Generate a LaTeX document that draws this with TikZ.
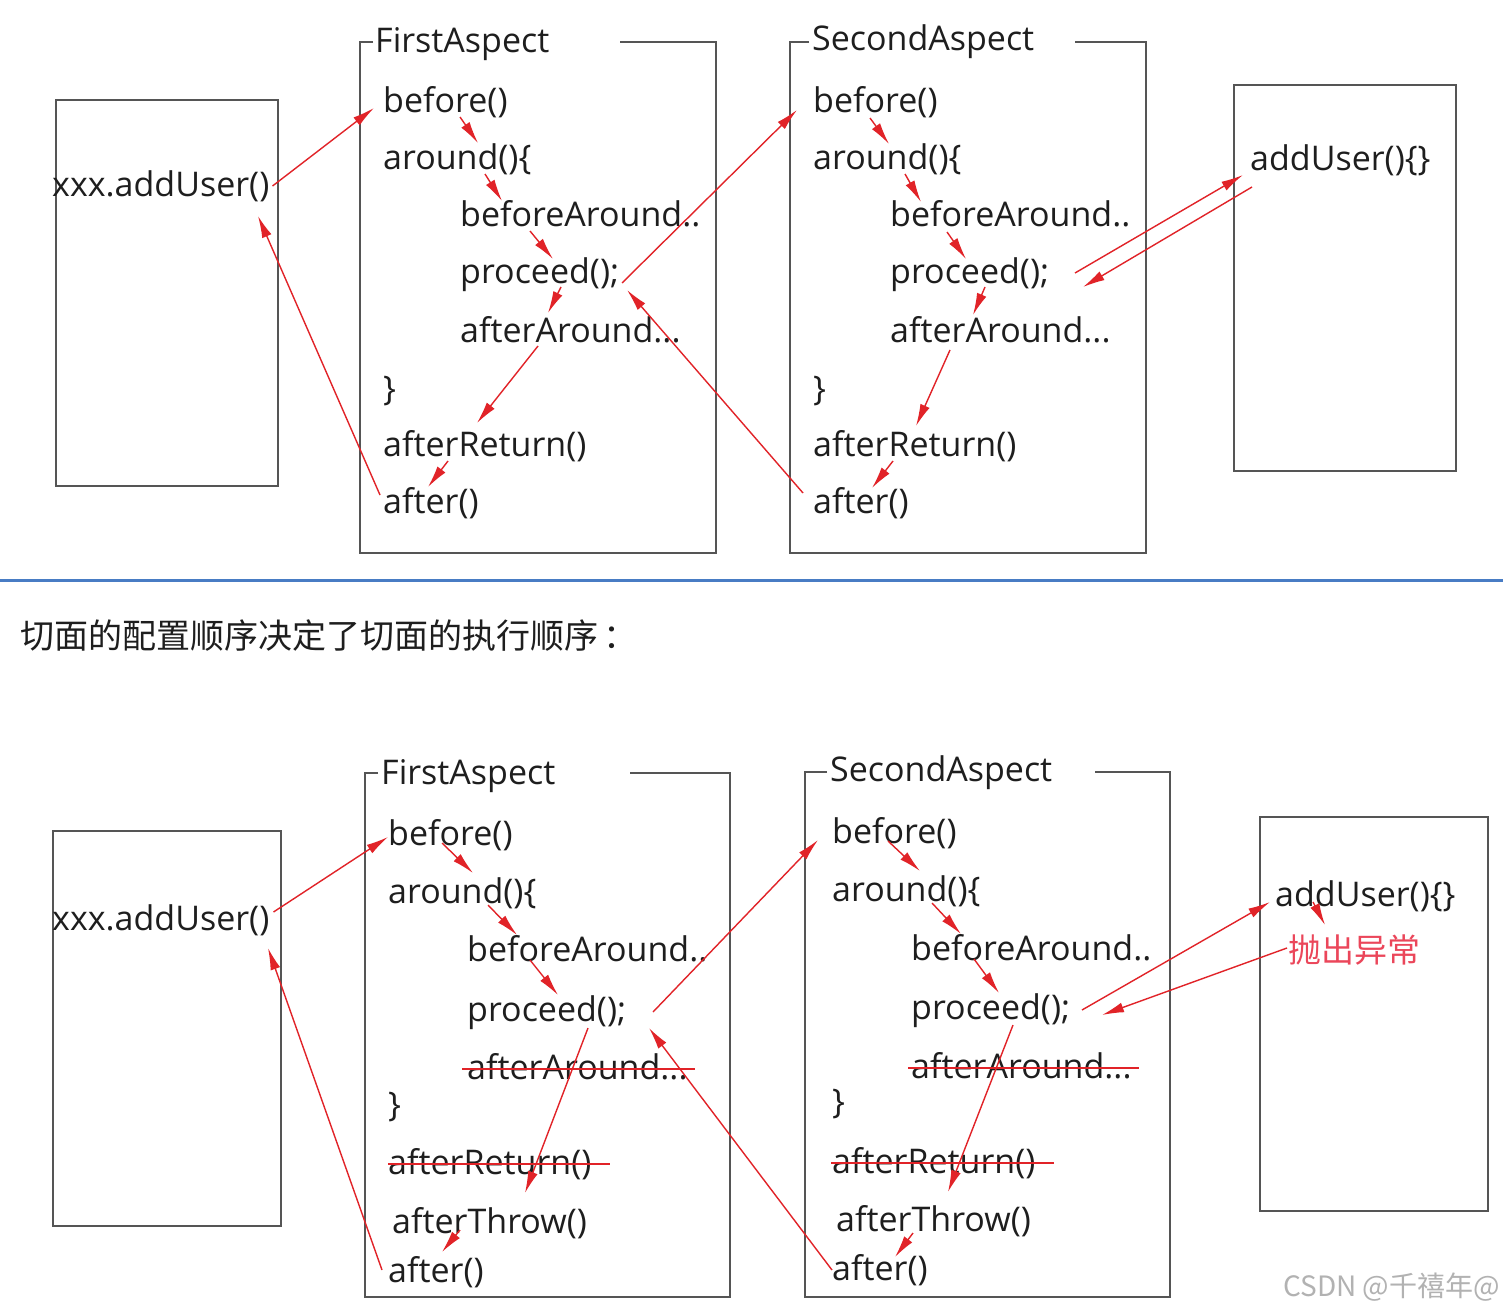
\documentclass[tikz,border=0pt]{standalone}
\usepackage{fontspec}
\setmainfont{Open Sans}
\newfontfamily\cjk{Noto Sans CJK SC}
\usetikzlibrary{arrows.meta,calc}
\definecolor{ink}{RGB}{30,30,30}
\definecolor{pen}{RGB}{225,35,40}
\definecolor{frm}{RGB}{85,85,85}
\definecolor{rulec}{RGB}{72,124,196}
\definecolor{errc}{RGB}{235,70,90}

\begin{document}
\begin{tikzpicture}[x=1pt, y=-1pt,
  txt/.style={anchor=west, inner sep=0pt, text=ink, text height=30pt, text depth=4pt,
    font=\fontsize{34}{40}\selectfont},
  box/.style={draw=frm, line width=1.5pt, inner sep=0pt, outer sep=0pt},
  frame/.style={draw=frm, line width=1.5pt},
  flow/.style={draw=pen, line width=1.4pt, -{Latex[length=22pt,width=10pt]}},
  strike/.style={draw=pen, line width=1.6pt}]
  \fill[white] (0,0) rectangle (1503,1313);
  \useasboundingbox (0,0) rectangle (1503,1313);

  % ---- upper diagram: normal return
  \node[box, minimum width=222pt, minimum height=386pt] (caller) at (167,293) {};
  \node[txt] (xu) at (52,184) {xxx.addUser()};
  \node[box, minimum width=222pt, minimum height=386pt] (target) at (1345,278) {};
  \node[txt] (tu) at (1250,158) {addUser()\{\}};

  \node[txt] (ft) at (375,40) {FirstAspect};
  \draw[frame] (373,42) -- (360,42) |- (716,553) -- (716,42) -- (620,42);
  \node[txt] (fb) at (383,100) {before()};
  \node[txt] (fa) at (383,157) {around()\{};
  \node[txt] (fba) at (460,214) {beforeAround..};
  \node[txt] (fp) at (460,271) {proceed();};
  \node[txt] (faa) at (460,329) {afterAround...};
  \node[txt] (fc) at (383,387) {\}};
  \node[txt] (far) at (383,443) {afterReturn()};
  \node[txt] (ff) at (383,500) {after()};

  \node[txt] (st) at (812,38) {SecondAspect};
  \draw[frame] (809,42) -- (790,42) |- (1146,553) -- (1146,42) -- (1075,42);
  \node[txt] (sb) at (813,100) {before()};
  \node[txt] (sa) at (813,157) {around()\{};
  \node[txt] (sba) at (890,214) {beforeAround..};
  \node[txt] (sp) at (890,271) {proceed();};
  \node[txt] (saa) at (890,329) {afterAround...};
  \node[txt] (sc) at (813,387) {\}};
  \node[txt] (sar) at (813,443) {afterReturn()};
  \node[txt] (sf) at (813,500) {after()};

  \draw[flow] ($(xu.east)+(3,2)$) -- ($(fb.west)+(-9,8)$);
  \draw[flow] ($(fb.west)+(77,17)$) -- ($(fa.west)+(95,-14)$);
  \draw[flow] ($(fa.west)+(102,17)$) -- ($(fba.west)+(42,-13)$);
  \draw[flow] ($(fba.west)+(70,17)$) -- ($(fp.west)+(93,-12)$);
  \draw[flow] ($(fp.west)+(101,16)$) -- ($(faa.west)+(88,-16)$);
  \draw[flow] ($(faa.west)+(78,17)$) -- ($(far.west)+(94,-20)$);
  \draw[flow] ($(far.west)+(65,18)$) -- ($(ff.west)+(45,-13)$);
  \draw[flow] ($(ff.west)+(-3,-5)$) -- ($(xu.west)+(206,32)$);
  \draw[flow] ($(fp.west)+(162,12)$) -- ($(sb.west)+(-16,10)$);
  \draw[flow] ($(sf.west)+(-10,-7)$) -- ($(fp.west)+(167,19)$);
  \draw[flow] ($(sb.west)+(57,18)$) -- ($(sa.west)+(76,-13)$);
  \draw[flow] ($(sa.west)+(92,17)$) -- ($(sba.west)+(31,-12)$);
  \draw[flow] ($(sba.west)+(57,18)$) -- ($(sp.west)+(76,-12)$);
  \draw[flow] ($(sp.west)+(95,16)$) -- ($(saa.west)+(83,-14)$);
  \draw[flow] ($(saa.west)+(60,21)$) -- ($(sar.west)+(103,-17)$);
  \draw[flow] ($(sar.west)+(80,18)$) -- ($(sf.west)+(59,-12)$);
  \draw[flow] ($(sp.west)+(185,2)$) -- ($(tu.west)+(-7,17)$);
  \draw[flow] ($(tu.west)+(2,29)$) -- ($(sp.west)+(193,16)$);

  % ---- separator and caption
  \draw[rulec, line width=3pt] (0,580) -- (1503,580);
  \node[anchor=west, inner sep=0pt, text=ink, font=\cjk\fontsize{34}{40}\selectfont] (cap) at (20,636)
    {切面的配置顺序决定了切面的执行顺序\,：};

  % ---- lower diagram: exception thrown
  \node[box, minimum width=228pt, minimum height=395pt] (caller2) at (167,1028.5) {};
  \node[txt] (yu) at (52,917) {xxx.addUser()};
  \node[box, minimum width=228pt, minimum height=394pt] (target2) at (1374,1014) {};
  \node[txt] (tv) at (1275,893) {addUser()\{\}};
  \node[txt, text=errc, font=\cjk\fontsize{33}{40}\selectfont] (err) at (1288,949) {抛出异常};

  \node[txt] (gt) at (381,771) {FirstAspect};
  \draw[frame] (378,773) -- (365,773) |- (730,1297) -- (730,773) -- (630,773);
  \node[txt] (gb) at (388,832) {before()};
  \node[txt] (ga) at (388,890) {around()\{};
  \node[txt] (gba) at (467,948) {beforeAround..};
  \node[txt] (gp) at (467,1008) {proceed();};
  \node[txt] (gaa) at (467,1066) {afterAround...};
  \node[txt] (gc) at (388,1103) {\}};
  \node[txt] (gar) at (388,1161) {afterReturn()};
  \node[txt] (gat) at (392,1220) {afterThrow()};
  \node[txt] (gf) at (388,1269) {after()};

  \node[txt] (ht) at (830,768) {SecondAspect};
  \draw[frame] (827,772) -- (805,772) |- (1170,1297) -- (1170,772) -- (1095,772);
  \node[txt] (hb) at (832,830) {before()};
  \node[txt] (ha) at (832,888) {around()\{};
  \node[txt] (hba) at (911,947) {beforeAround..};
  \node[txt] (hp) at (911,1006) {proceed();};
  \node[txt] (haa) at (911,1065) {afterAround...};
  \node[txt] (hc) at (832,1100) {\}};
  \node[txt] (har) at (832,1160) {afterReturn()};
  \node[txt] (hat) at (836,1218) {afterThrow()};
  \node[txt] (hf) at (832,1267) {after()};

  % skipped advice
  \draw[strike] ($(gaa.west)+(-5,3)$) -- ($(gaa.east)+(7,3)$);
  \draw[strike] ($(gar.west)+(0,3)$) -- ($(gar.east)+(18,3)$);
  \draw[strike] ($(haa.west)+(-3,3)$) -- ($(haa.east)+(7,3)$);
  \draw[strike] ($(har.west)+(-1,3)$) -- ($(har.east)+(18,3)$);

  \draw[flow] ($(yu.east)+(4,-5)$) -- ($(gb.west)+(0,5)$);
  \draw[flow] ($(gb.west)+(54,11)$) -- ($(ga.west)+(85,-17)$);
  \draw[flow] ($(ga.west)+(100,15)$) -- ($(gba.west)+(50,-13)$);
  \draw[flow] ($(gba.west)+(63,12)$) -- ($(gp.west)+(91,-13)$);
  \draw[flow] ($(gp.west)+(121,20)$) -- ($(gat.west)+(133,-27)$);
  \draw[flow] ($(gat.west)+(68,10)$) -- ($(gf.west)+(54,-17)$);
  \draw[flow] ($(gf.west)+(-6,1)$) -- ($(yu.west)+(216,31)$);
  \draw[flow] ($(gp.west)+(186,4)$) -- ($(hb.west)+(-14,10)$);
  \draw[flow] ($(hf.west)+(0,3)$) -- ($(gp.west)+(182,20)$);
  \draw[flow] ($(hb.west)+(56,11)$) -- ($(ha.west)+(88,-17)$);
  \draw[flow] ($(ha.west)+(100,15)$) -- ($(hba.west)+(50,-13)$);
  \draw[flow] ($(hba.west)+(63,12)$) -- ($(hp.west)+(88,-13)$);
  \draw[flow] ($(hp.west)+(102,19)$) -- ($(hat.west)+(112,-26)$);
  \draw[flow] ($(hat.west)+(77,15)$) -- ($(hf.west)+(63,-10)$);
  \draw[flow] ($(hp.west)+(171,4)$) -- ($(tv.west)+(-5,9)$);
  \draw[flow] ($(err.west)+(-1,-1)$) -- ($(hp.west)+(191,9)$);
  \draw[flow] ($(tv.west)+(38,9)$) -- ($(err.west)+(37,-24)$);

  \node[anchor=east, inner sep=0pt, text=black!30, font=\cjk\fontsize{28}{32}\selectfont] (wm) at (1500,1287)
    {CSDN @千禧年@};
\end{tikzpicture}
\end{document}
